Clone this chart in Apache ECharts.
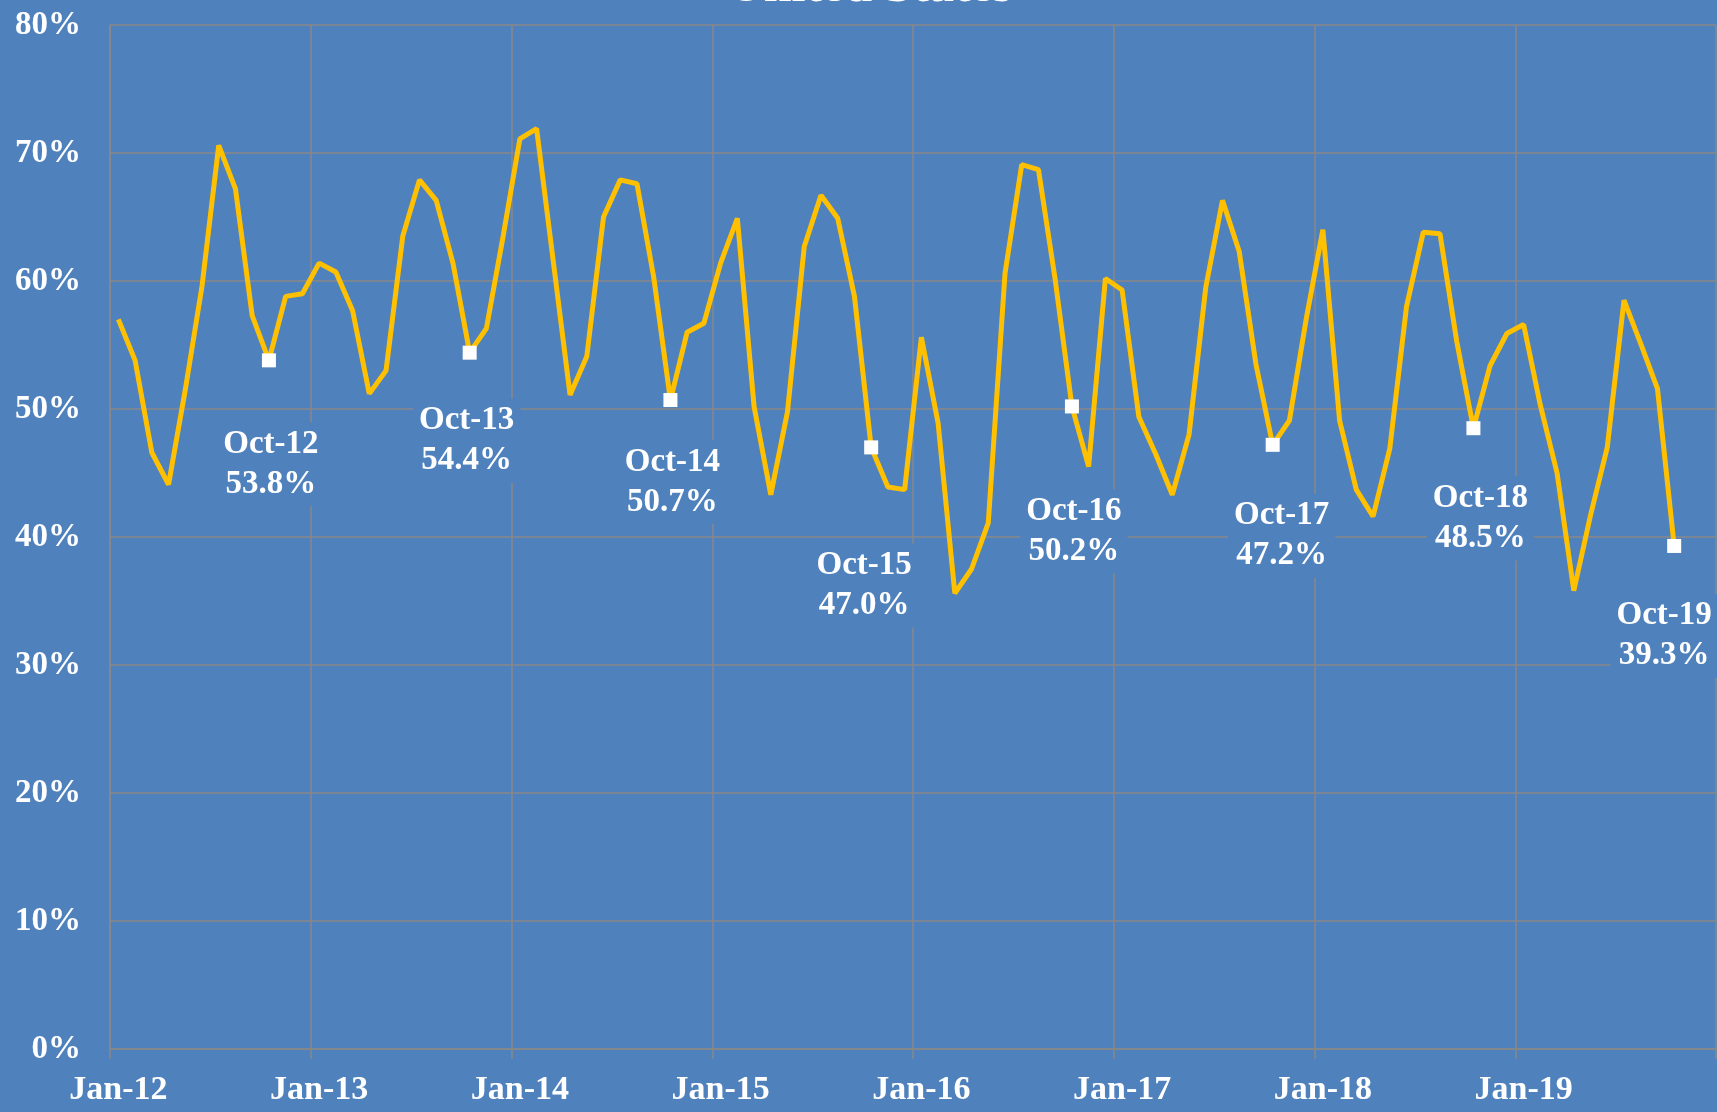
<!DOCTYPE html>
<html>
<head>
<meta charset="utf-8">
<script src="https://cdn.jsdelivr.net/npm/echarts@6/dist/echarts.min.js"></script>
<style>
  html, body { margin: 0; padding: 0; background: #4F81BD; }
  #chart { width: 1717px; height: 1112px; }
</style>
</head>
<body>
<div id="chart"></div>
<script>
// ---- Data ----
const monthNames = ['Jan','Feb','Mar','Apr','May','Jun','Jul','Aug','Sep','Oct','Nov','Dec'];
const yearLabels = ['12','13','14','15','16','17','18','19'];
const yTickLabels = ['0%','10%','20%','30%','40%','50%','60%','70%','80%'];

const values2012 = [57.0, 53.8, 46.6, 44.1, 51.5, 59.6, 70.6, 67.2, 57.3, 53.8, 58.8, 59.0];
const values2013 = [61.4, 60.7, 57.7, 51.2, 53.0, 63.5, 67.9, 66.3, 61.4, 54.4, 56.3, 63.5];
const values2014 = [71.1, 71.9, 61.5, 51.1, 54.1, 65.0, 67.9, 67.6, 60.3, 50.7, 56.0, 56.7];
const values2015 = [61.4, 64.9, 50.2, 43.3, 49.8, 62.7, 66.7, 64.9, 58.8, 47.0, 43.9, 43.7];
const values2016 = [55.6, 48.9, 35.6, 37.5, 41.1, 60.6, 69.1, 68.7, 60.1, 50.2, 45.5, 60.2];
const values2017 = [59.3, 49.4, 46.5, 43.3, 48.0, 59.5, 66.3, 62.3, 53.5, 47.2, 49.1, 57.0];
const values2018 = [64.0, 49.1, 43.7, 41.6, 46.9, 58.0, 63.8, 63.7, 55.3, 48.5, 53.4, 55.9];
const values2019 = [56.6, 50.3, 45.0, 35.8, 41.7, 47.0, 58.5, 55.1, 51.6, 39.3];

const highlightMonth = 'Oct';

// ---- Build ----
const categories = [];
yearLabels.forEach(y => monthNames.forEach(m => categories.push(m + '-' + y)));
const allValues = [].concat(values2012, values2013, values2014, values2015,
                            values2016, values2017, values2018, values2019);

// label placement (style only)
const labelOffsets = [[2,55],[-3,39],[2,33],[-7,89],[2,76],[9,42],[7,41],[-10,41]];

const highlightData = [];
allValues.forEach((v, i) => {
  if (categories[i].startsWith(highlightMonth)) {
    const off = labelOffsets[highlightData.length] || [0, 40];
    highlightData.push({
      value: [categories[i], v],
      label: { offset: off }
    });
  }
});

const FONT = 'Liberation Serif';

const chart = echarts.init(document.getElementById('chart'), null, { renderer: 'canvas' });
chart.setOption({
  backgroundColor: '#4F81BD',
  animation: false,
  title: {
    text: 'United States',
    left: 865,
    textAlign: 'center',
    top: -42,
    textStyle: { color: '#FFFFFF', fontFamily: FONT, fontWeight: 'bold', fontSize: 50 }
  },
  grid: { left: 110, right: 1, top: 25, bottom: 63, containLabel: false },
  xAxis: {
    type: 'category',
    data: categories,
    boundaryGap: true,
    axisLine: { show: true, lineStyle: { color: '#888888', width: 1.5 } },
    axisTick: { show: true, interval: 11, length: 10, lineStyle: { color: '#888888', width: 1.5 } },
    axisLabel: {
      interval: 11,
      color: '#FFFFFF',
      fontFamily: FONT,
      fontWeight: 'bold',
      fontSize: 34,
      margin: 24
    },
    splitLine: { show: true, interval: 11, lineStyle: { color: '#888888', width: 1.5 } }
  },
  yAxis: {
    type: 'value',
    min: 0,
    max: 80,
    interval: 10,
    axisLine: { show: true, lineStyle: { color: '#888888', width: 1.5 } },
    axisTick: { show: false },
    axisLabel: {
      color: '#FFFFFF',
      fontFamily: FONT,
      fontWeight: 'bold',
      fontSize: 33,
      margin: 29,
      formatter: v => yTickLabels[Math.round(v / 10)]
    },
    splitLine: { show: true, lineStyle: { color: '#888888', width: 1.5 } }
  },
  series: [{
    type: 'line',
    data: allValues,
    showSymbol: false,
    symbol: 'none',
    lineStyle: { color: '#FFC000', width: 5 },
    z: 2
  }, {
    type: 'scatter',
    data: highlightData,
    symbol: 'rect',
    symbolSize: 14,
    itemStyle: { color: '#FFFFFF', opacity: 1 },
    z: 3,
    label: {
      show: true,
      position: 'bottom',
      distance: 0,
      formatter: p => p.value[0] + '\n' + Number(p.value[1]).toFixed(1) + '%',
      color: '#FFFFFF',
      opacity: 1,
      fontFamily: FONT,
      fontWeight: 'bold',
      fontSize: 33,
      lineHeight: 40,
      backgroundColor: '#4F81BD',
      padding: [2, 6],
      align: 'center'
    }
  }]
});
</script>
</body>
</html>
